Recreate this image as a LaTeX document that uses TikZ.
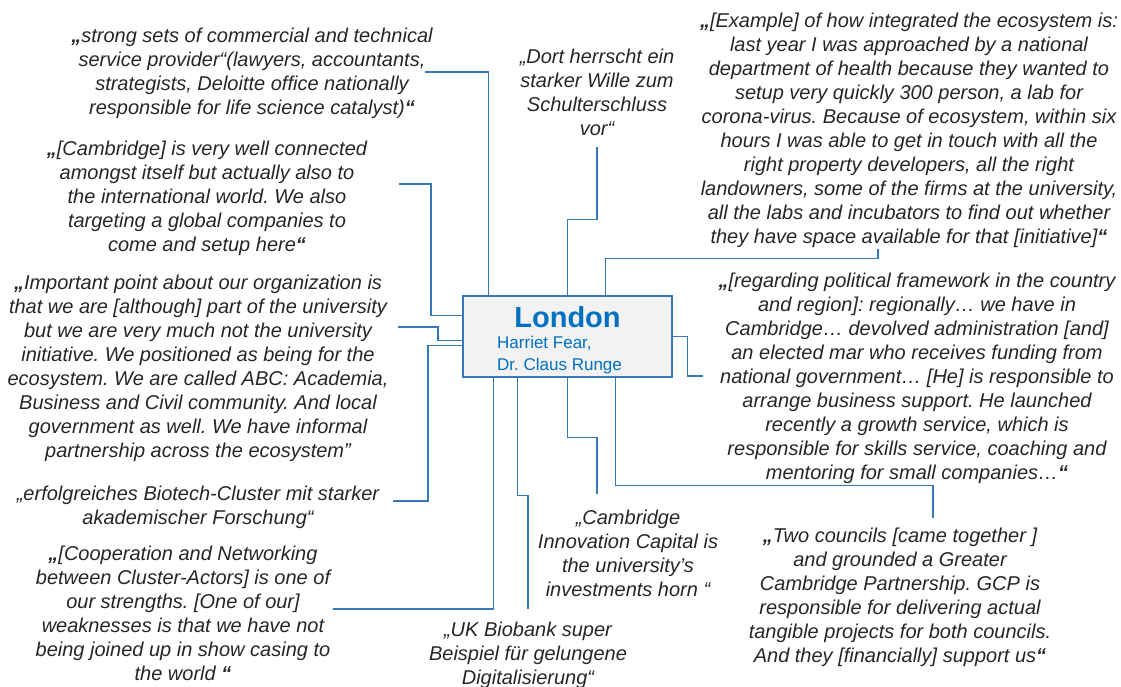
\documentclass[tikz,border=0pt]{standalone}
\usepackage{fontspec}
\setmainfont{Liberation Sans}
\frenchspacing
\usetikzlibrary{positioning}
\definecolor{txt}{HTML}{262626}
\definecolor{lineblue}{HTML}{3579BA}
\definecolor{titleblue}{HTML}{0070C0}
\definecolor{boxfill}{HTML}{F2F2F2}
\newcommand{\bq}{\textbf{„}}
\newcommand{\eq}{\textbf{“}}
\tikzset{
  quote/.style={font=\fontsize{20}{24}\selectfont\itshape\frenchspacing, text=txt, align=center, inner sep=0pt, anchor=north},
  conn/.style={draw=lineblue, line width=1.3pt},
  hubbox/.style={draw=lineblue, fill=boxfill, line width=1.3pt, minimum width=209pt, minimum height=81pt, inner sep=0pt},
  title/.style={font=\fontsize{29}{32}\selectfont\bfseries, text=titleblue, inner sep=0pt, anchor=base},
  names/.style={font=\fontsize{17}{22}\selectfont, text=titleblue, align=left, inner sep=0pt, anchor=north west}
}
\begin{document}
\begin{tikzpicture}[x=1pt, y=-1pt]
\useasboundingbox (0,0) rectangle (1121,686);

% hub
\node[hubbox] (hub) at (567.5,336.5) {};
\node[title] (london) at (567.5,327) {London};
\node[names] (persons) at (497,336) {Harriet Fear,\\Dr. Claus Runge};

% quotes
\node[quote] (q1) at (252,28) {\bq strong sets of commercial and technical\\service provider“(lawyers, accountants,\\strategists, Deloitte office nationally\\responsible for life science catalyst)\eq};
\node[quote] (q2) at (207,141) {\bq[Cambridge] is very well connected\\amongst itself but actually also to\\the international world. We also\\targeting a global companies to\\come and setup here\eq};
\node[quote] (q3) at (198,275) {\bq Important point about our organization is\\that we are [although] part of the university\\but we are very much not the university\\initiative. We positioned as being for the\\ecosystem. We are called ABC: Academia,\\Business and Civil community. And local\\government as well. We have informal\\partnership across the ecosystem”};
\node[quote] (q4) at (198,486) {„erfolgreiches Biotech-Cluster mit starker\\akademischer Forschung“};
\node[quote] (q5) at (183,546) {\bq[Cooperation and Networking\\between Cluster-Actors] is one of\\our strengths. [One of our]\\weaknesses is that we have not\\being joined up in show casing to\\the world \eq};
\node[quote] (q6) at (597,49) {„Dort herrscht ein\\starker Wille zum\\Schulterschluss\\vor“};
\node[quote] (q7) at (909,13) {\bq[Example] of how integrated the ecosystem is:\\last year I was approached by a national\\department of health because they wanted to\\setup very quickly 300 person, a lab for\\corona-virus. Because of ecosystem, within six\\hours I was able to get in touch with all the\\right property developers, all the right\\landowners, some of the firms at the university,\\all the labs and incubators to find out whether\\they have space available for that [initiative]\eq};
\node[quote] (q8) at (917,273) {\bq[regarding political framework in the country\\and region]: regionally… we have in\\Cambridge… devolved administration [and]\\an elected mar who receives funding from\\national government… [He] is responsible to\\arrange business support. He launched\\recently a growth service, which is\\responsible for skills service, coaching and\\mentoring for small companies…\eq};
\node[quote] (q9) at (628,510) {„Cambridge\\Innovation Capital is\\the university’s\\investments horn “};
\node[quote] (q10) at (528,622) {„UK Biobank super\\Beispiel für gelungene\\Digitalisierung“};
\node[quote] (q11) at (900,528) {\bq Two councils [came together ]\\and grounded a Greater\\Cambridge Partnership. GCP is\\responsible for delivering actual\\tangible projects for both councils.\\And they [financially] support us\eq};

% free ends of connectors
\coordinate (e1) at (425,72);
\coordinate (e2) at (399,184);
\coordinate (e3) at (398,327);
\coordinate (e4) at (393,501);
\coordinate (e5) at (333,609);
\coordinate (e6) at (528,609);
\coordinate (e7) at (597,494);
\coordinate (e8) at (933,518);
\coordinate (e9) at (703,376);
\coordinate (e10) at (878,249);
\coordinate (e11) at (597,147);

% connectors
\draw[conn] (e1) -| ([xshift=26]hub.north west);
\draw[conn] (e2) -- ++(32,0) |- ([yshift=-20]hub.north west);
\draw[conn] (e3) -- ++(40,0) |- ([yshift=-45]hub.north west);
\draw[conn] (e4) -- ++(35,0) |- ([yshift=-50]hub.north west);
\draw[conn] (e5) -| ([xshift=31]hub.south west);
\draw[conn] ([xshift=55]hub.south west) -- ++(0,118) -| (e6);
\draw[conn] ([xshift=105]hub.south west) -- ++(0,60) -| (e7);
\draw[conn] ([xshift=153]hub.south west) -- ++(0,108) -| (e8);
\draw[conn] ([yshift=-41]hub.north east) -- ++(15,0) |- (e9);
\draw[conn] ([xshift=143]hub.north west) -- ++(0,-37) -| (e10);
\draw[conn] ([xshift=105]hub.north west) -- ++(0,-76) -| (e11);
\end{tikzpicture}
\end{document}
